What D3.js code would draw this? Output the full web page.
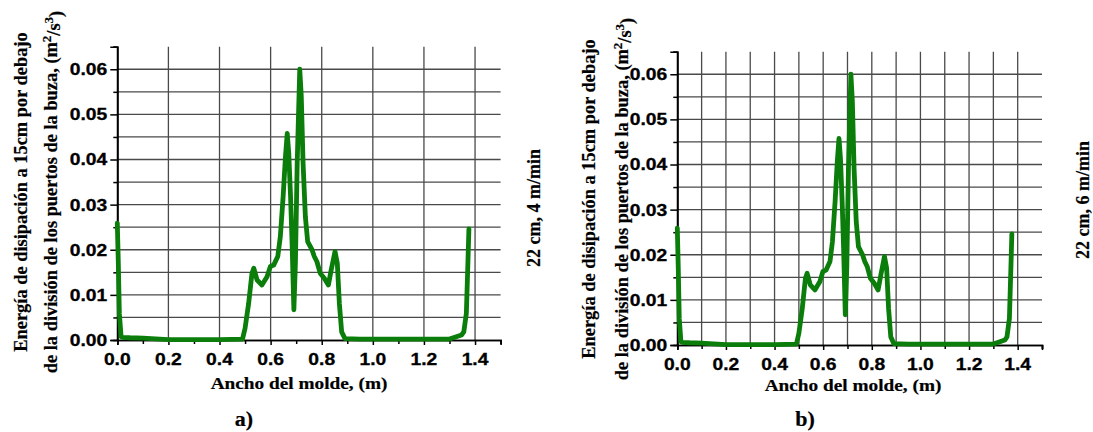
<!DOCTYPE html>
<html><head><meta charset="utf-8">
<script src="https://cdn.jsdelivr.net/npm/d3@7"></script>
<style>body{margin:0;background:#fff}svg{display:block}</style>
</head><body>
<svg id="chart" width="1093" height="432"></svg>
<script>
// ---- data ----
const widthM = [0, 0.004, 0.008, 0.015, 0.02, 0.05, 0.1, 0.2, 0.3, 0.4, 0.49, 0.50, 0.514, 0.527, 0.534, 0.547, 0.566, 0.586, 0.599, 0.612, 0.628, 0.638, 0.649, 0.658, 0.665, 0.671, 0.678, 0.684, 0.691, 0.697, 0.704, 0.714, 0.72, 0.727, 0.736, 0.745, 0.762, 0.771, 0.781, 0.794, 0.81, 0.826, 0.837, 0.852, 0.861, 0.869, 0.878, 0.891, 0.95, 1.1, 1.3, 1.315, 1.347, 1.356, 1.366, 1.372, 1.376];
const energyA = [0.0259, 0.017, 0.0059, 0.0007, 0.0006, 0.0005, 0.0004, 0.0001, 0.0001, 0.0001, 0.0002, 0.0026, 0.0081, 0.0148, 0.0159, 0.0133, 0.0122, 0.014, 0.0163, 0.0166, 0.0185, 0.0229, 0.0318, 0.0406, 0.0458, 0.0414, 0.0318, 0.0214, 0.0067, 0.017, 0.0392, 0.060, 0.054, 0.0392, 0.0273, 0.0218, 0.02, 0.0185, 0.0174, 0.0148, 0.0137, 0.0122, 0.0155, 0.0196, 0.017, 0.0081, 0.0018, 0.0003, 0.0002, 0.0002, 0.0002, 0.0005, 0.0011, 0.0018, 0.0059, 0.017, 0.0246];
const energyB = [0.0259, 0.017, 0.0059, 0.0007, 0.0006, 0.0005, 0.0004, 0.0001, 0.0001, 0.0001, 0.0002, 0.0026, 0.0081, 0.0148, 0.0159, 0.0133, 0.0122, 0.014, 0.0163, 0.0166, 0.0185, 0.0229, 0.0318, 0.0406, 0.0458, 0.0414, 0.0318, 0.0214, 0.0067, 0.017, 0.0392, 0.060, 0.054, 0.0392, 0.0273, 0.0218, 0.02, 0.0185, 0.0174, 0.0148, 0.0137, 0.0122, 0.0155, 0.0196, 0.017, 0.0081, 0.0018, 0.0003, 0.0002, 0.0002, 0.0002, 0.0005, 0.0011, 0.0018, 0.0059, 0.017, 0.0246];
const xTickValues = [0, 0.2, 0.4, 0.6, 0.8, 1.0, 1.2, 1.4];
const xMinorValues = [0.1, 0.3, 0.5, 0.7, 0.9, 1.1, 1.3, 1.5];
const yTickValues = [0, 0.01, 0.02, 0.03, 0.04, 0.05, 0.06];
const yMinorValues = [0.005, 0.015, 0.025, 0.035, 0.045, 0.055, 0.065];
const xDomain = [0, 1.5];
const yDomain = [0, 0.065];
const xTitle = "Ancho del molde, (m)";
const yTitleLine1 = "Energía de disipación a 15cm por debajo";
const yTitleLine2 = "de la división de los puertos de la buza, (m";
const panelLabels = ["a)", "b)"];
const sideLabels = ["22 cm, 4 m/min", "22 cm, 6 m/min"];

// ---- layout ----
const SX = 1.17;
const panels = [
  {series: energyA, left: 117.3, right: 500.6, top: 46.7, bottom: 340, minorGrid: false,
   label: panelLabels[0], labelX: 244, labelY: 426, side: sideLabels[0], sideX: 540, sideY: 208,
   xTitleX: 299, xTitleY: 389, yT1X: 27, yT2X: 57, yTY: 192},
  {series: energyB, left: 677.3, right: 1042, top: 51.7, bottom: 345, minorGrid: true,
   label: panelLabels[1], labelX: 805, labelY: 426, side: sideLabels[1], sideX: 1089, sideY: 200,
   xTitleX: 853, xTitleY: 391, yT1X: 595, yT2X: 628, yTY: 199}
];

const svg = d3.select("#chart");
const SERIF = "'Liberation Serif','Times New Roman',serif";
const SANS = "'Liberation Sans',Arial,sans-serif";

function txt(g, x, y, s, o) {
  const t = g.append("text")
    .attr("transform", `translate(${x},${y}) scale(${o.sx || SX},1)` + (o.rot ? ` rotate(${o.rot})` : ""))
    .attr("text-anchor", o.anchor || "middle")
    .attr("font-family", o.family || SERIF)
    .attr("font-weight", "bold")
    .attr("font-size", o.size)
    .attr("fill", "#000");
  if (o.dy) t.attr("dy", o.dy);
  if (o.stroke) t.attr("stroke", "#000").attr("stroke-width", o.stroke);
  t.text(s);
  return t;
}

panels.forEach(p => {
  const g = svg.append("g");
  const x = d3.scaleLinear().domain(xDomain).range([p.left, p.right]);
  const y = d3.scaleLinear().domain(yDomain).range([p.bottom, p.top]);

  // grid
  const vGrid = p.minorGrid ? xTickValues.concat(xMinorValues.slice(0, -1)) : xTickValues;
  g.selectAll(".vg").data(vGrid).enter().append("line")
    .attr("x1", d => x(d)).attr("x2", d => x(d))
    .attr("y1", y(0)).attr("y2", y(yDomain[1]))
    .attr("stroke", "#4a4a4a").attr("stroke-width", 1.3);
  g.selectAll(".hg").data(yTickValues.concat(yMinorValues.slice(0, -1)).filter(d => d > 0)).enter().append("line")
    .attr("x1", x(0)).attr("x2", x(xDomain[1]))
    .attr("y1", d => y(d)).attr("y2", d => y(d))
    .attr("stroke", "#4a4a4a").attr("stroke-width", 1.3);

  // axes
  const xAxis = d3.axisBottom(x).tickValues(xTickValues).tickSize(5).tickFormat("");
  const xMinor = d3.axisBottom(x).tickValues(xMinorValues).tickSize(4).tickFormat("");
  const yAxis = d3.axisLeft(y).tickValues(yTickValues).tickSize(7).tickFormat("");
  const yMinor = d3.axisLeft(y).tickValues(yMinorValues).tickSize(4).tickFormat("");
  [[xAxis, `translate(0,${p.bottom})`], [xMinor, `translate(0,${p.bottom})`],
   [yAxis, `translate(${p.left},0)`], [yMinor, `translate(${p.left},0)`]].forEach(([ax, tr]) => {
    const a = g.append("g").attr("transform", tr).call(ax);
    a.select(".domain").attr("stroke", "#000").attr("stroke-width", 1.6);
    a.selectAll(".tick line").attr("stroke", "#000").attr("stroke-width", 1.5);
  });

  // tick labels
  xTickValues.forEach(v => txt(g, x(v), p.bottom + 25, d3.format(".1f")(v), {size: 16.5, family: SANS, stroke: 0.3}));
  yTickValues.forEach(v => txt(g, p.left - 10, y(v), d3.format(".2f")(v), {size: 16.5, family: SANS, anchor: "end", dy: "0.36em", stroke: 0.3}));

  // data line
  const line = d3.line().x((d, i) => x(widthM[i])).y(d => y(d));
  g.append("path").datum(p.series).attr("d", line)
    .attr("fill", "none").attr("stroke", "#0a7d0a").attr("stroke-width", 4.8)
    .attr("stroke-linejoin", "round").attr("stroke-linecap", "round");

  // titles
  txt(g, p.xTitleX, p.xTitleY, xTitle, {size: 16.5, stroke: 0.2});
  txt(g, p.yT1X, p.yTY, yTitleLine1, {size: 18.4, rot: -90, sx: 1.0, stroke: 0.2});
  const t2 = txt(g, p.yT2X, p.yTY, yTitleLine2, {size: 18.4, rot: -90, sx: 1.0, stroke: 0.2});
  t2.append("tspan").attr("font-size", 13).attr("dy", "-0.5em").text("2");
  t2.append("tspan").attr("dy", "0.5em").text("/s");
  t2.append("tspan").attr("font-size", 13).attr("dy", "-0.5em").text("3");
  t2.append("tspan").attr("dy", "0.5em").text(")");
  txt(g, p.labelX, p.labelY, p.label, {size: 20, sx: 1.1, stroke: 0.2});
  txt(g, p.sideX, p.sideY, p.side, {size: 18, rot: -90, sx: 1.05, stroke: 0.2});
});
</script>
</body></html>
